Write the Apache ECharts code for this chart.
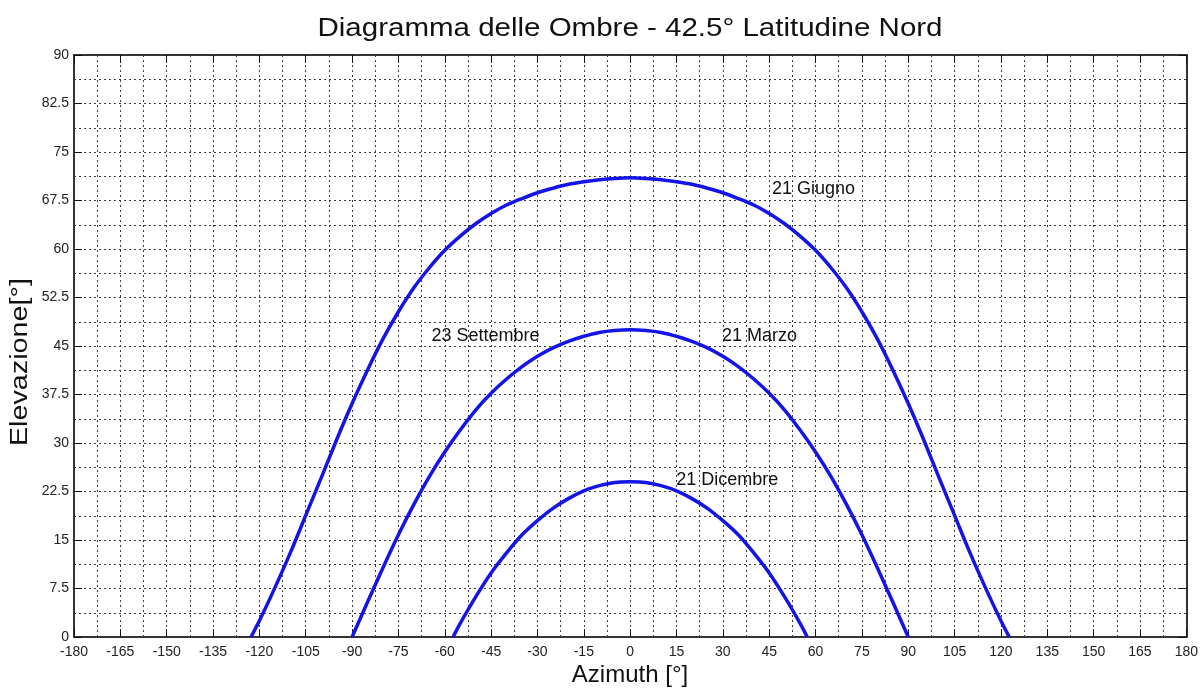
<!DOCTYPE html>
<html>
<head>
<meta charset="utf-8">
<script src="https://cdn.jsdelivr.net/npm/echarts@6/dist/echarts.min.js"></script>
<style>
  html, body { margin: 0; padding: 0; background: #fff; }
  #chart { width: 1201px; height: 689px; }
</style>
</head>
<body>
<div id="chart"></div>
<script>
// Sun paths at 42.5° N: azimuth (0 = South) vs solar elevation, in degrees
const azGiugno = [-122.7, -120, -115, -110, -105, -100, -95, -90, -85, -80, -75, -70, -65, -60, -55, -50, -45, -40, -35, -30, -25, -20, -15, -10, -5, 0,
                  5, 10, 15, 20, 25, 30, 35, 40, 45, 50, 55, 60, 65, 70, 75, 80, 85, 90, 95, 100, 105, 110, 115, 120, 122.7];
const elGiugno = [0, 2.5, 7.6, 13.0, 18.8, 24.6, 30.5, 36.1, 41.3, 46.1, 50.3, 54.0, 57.1, 59.8, 62.0, 63.9, 65.5, 66.8, 67.8, 68.7, 69.4, 70.0, 70.4, 70.7, 70.9, 71.0,
                  70.9, 70.7, 70.4, 70.0, 69.4, 68.7, 67.8, 66.8, 65.5, 63.9, 62.0, 59.8, 57.1, 54.0, 50.3, 46.1, 41.3, 36.1, 30.5, 24.6, 18.8, 13.0, 7.6, 2.5, 0];

const azEquinozio = [-90, -85, -80, -75, -70, -65, -60, -55, -50, -45, -40, -35, -30, -25, -20, -15, -10, -5, 0,
                     5, 10, 15, 20, 25, 30, 35, 40, 45, 50, 55, 60, 65, 70, 75, 80, 85, 90];
const elEquinozio = [0, 5.4, 10.7, 15.8, 20.5, 24.8, 28.6, 32.0, 35.1, 37.7, 39.9, 41.8, 43.4, 44.7, 45.7, 46.5, 47.1, 47.4, 47.5,
                     47.4, 47.1, 46.5, 45.7, 44.7, 43.4, 41.8, 39.9, 37.7, 35.1, 32.0, 28.6, 24.8, 20.5, 15.8, 10.7, 5.4, 0];

const azDicembre = [-57.3, -55, -50, -45, -40, -35, -30, -25, -20, -15, -10, -5, 0, 5, 10, 15, 20, 25, 30, 35, 40, 45, 50, 55, 57.3];
const elDicembre = [0, 2.1, 6.2, 9.9, 13.0, 15.8, 18.0, 19.9, 21.4, 22.6, 23.4, 23.9, 24.0, 23.9, 23.4, 22.6, 21.4, 19.9, 18.0, 15.8, 13.0, 9.9, 6.2, 2.1, 0];

// Axis ranges and tick steps
const xTicks = { min: -180, max: 180, step: 15 };
const yTicks = { min: 0, max: 90, step: 7.5 };

const pairs = (xs, ys) => xs.map((x, i) => [x, ys[i]]);

const FONT = '"Liberation Sans", Arial, Helvetica, sans-serif';
const gridDots = { color: '#3a3a3a', width: 1, type: [2, 3] };
const curveStyle = { color: '#1414e6', width: 3.5 };

function dateLabel(name, az, el) {
  return {
    name: name,
    coord: [az, el],
    symbol: 'circle',
    symbolSize: 0,
    label: {
      show: true,
      formatter: name,
      position: 'right',
      distance: 0,
      align: 'left',
      verticalAlign: 'middle',
      color: '#111',
      fontSize: 18,
      fontFamily: FONT
    }
  };
}

function valueAxis(t, extra) {
  return Object.assign({
    type: 'value',
    min: t.min,
    max: t.max,
    interval: t.step,
    axisLine: { show: true, onZero: false, lineStyle: { color: '#333', width: 2 } },
    axisTick: { show: true, inside: true, length: 8, lineStyle: { color: '#111', width: 1 } },
    minorTick: { show: false, splitNumber: 2 },
    splitLine: { show: true, lineStyle: gridDots },
    minorSplitLine: { show: true, lineStyle: gridDots },
    axisLabel: { show: true, color: '#222', fontSize: 14, fontFamily: FONT }
  }, extra);
}

function sunPath(name, xs, ys, labels) {
  return {
    name: name, type: 'line', data: pairs(xs, ys),
    smooth: 0.3, showSymbol: false,
    lineStyle: curveStyle, z: 5,
    markPoint: { data: labels }
  };
}

const chart = echarts.init(document.getElementById('chart'), null, { renderer: 'canvas' });

chart.setOption({
  backgroundColor: '#fff',
  animation: false,
  grid: { left: 74, right: 13, top: 55, bottom: 52, containLabel: false },
  xAxis: [
    valueAxis(xTicks, { position: 'bottom', axisLabel: { show: true, color: '#222', fontSize: 14, fontFamily: FONT, margin: 8 } }),
    valueAxis(xTicks, { position: 'top', axisLabel: { show: false }, splitLine: { show: false }, minorSplitLine: { show: false } })
  ],
  yAxis: [
    valueAxis(yTicks, { position: 'left', axisLabel: { show: true, color: '#222', fontSize: 14, fontFamily: FONT, margin: 5 } }),
    valueAxis(yTicks, { position: 'right', axisLabel: { show: false }, splitLine: { show: false }, minorSplitLine: { show: false } })
  ],
  graphic: [
    {
      type: 'text', x: 630, y: 29, scaleX: 1.18,
      style: { text: 'Diagramma delle Ombre - 42.5° Latitudine Nord', font: '25px ' + FONT, fill: '#111', textAlign: 'center', textVerticalAlign: 'middle' }
    },
    {
      type: 'text', x: 630, y: 675,
      style: { text: 'Azimuth [°]', font: '24px ' + FONT, fill: '#111', textAlign: 'center', textVerticalAlign: 'middle' }
    },
    {
      type: 'text', x: 21, y: 362, rotation: Math.PI / 2, scaleX: 1.25,
      style: { text: 'Elevazione[°]', font: '23px ' + FONT, fill: '#111', textAlign: 'center', textVerticalAlign: 'middle' }
    }
  ],
  series: [
    sunPath('21 Giugno', azGiugno, elGiugno, [dateLabel('21 Giugno', 45.9, 69.3)]),
    sunPath('21 Marzo / 23 Settembre', azEquinozio, elEquinozio,
      [dateLabel('23 Settembre', -64.3, 46.5), dateLabel('21 Marzo', 29.7, 46.5)]),
    sunPath('21 Dicembre', azDicembre, elDicembre, [dateLabel('21 Dicembre', 14.9, 24.3)])
  ]
});
</script>
</body>
</html>
